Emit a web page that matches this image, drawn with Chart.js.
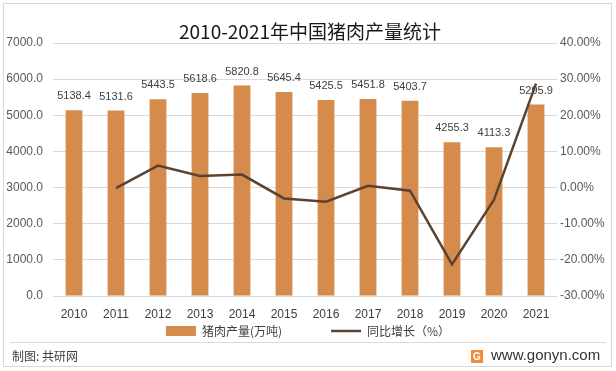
<!DOCTYPE html>
<html>
<head>
<meta charset="utf-8">
<script src="https://cdn.jsdelivr.net/npm/chart.js@4.4.1/dist/chart.umd.min.js"></script>
<style>
  html, body { margin: 0; padding: 0; background: #fff; }
  #wrap { width: 616px; height: 371px; position: relative; }
</style>
</head>
<body>
<div id="wrap"><canvas id="chart" width="616" height="371"></canvas></div>
<script>
// 数据
const years = ['2010', '2011', '2012', '2013', '2014', '2015', '2016', '2017', '2018', '2019', '2020', '2021'];
const output = [5138.4, 5131.6, 5443.5, 5618.6, 5820.8, 5645.4, 5425.5, 5451.8, 5403.7, 4255.3, 4113.3, 5295.9];
const growth = [null, -0.13, 6.08, 3.22, 3.60, -3.01, -3.90, 0.48, -0.88, -21.25, -3.34, 28.75];
const leftTicks = [0, 1000, 2000, 3000, 4000, 5000, 6000, 7000];
const rightTicks = [-30, -20, -10, 0, 10, 20, 30, 40];

const titleText = '2010-2021年中国猪肉产量统计';
const sourceText = '制图: 共研网';
const siteText = 'www.gonyn.com';

const barColor = '#d48b4c';
const lineColor = '#5c4331';
const cjk = '"Noto Sans CJK SC", "Noto Sans", sans-serif';
const latin = '"Liberation Sans", Arial, sans-serif';

// 标题、边框、页脚
const decorPlugin = {
  id: 'decor',
  beforeDraw(chart) {
    const ctx = chart.ctx;
    ctx.save();
    ctx.strokeStyle = '#d9d9d9';
    ctx.lineWidth = 1;
    ctx.strokeRect(3.5, 3.5, 608, 363);
    ctx.beginPath();
    ctx.moveTo(10, 342.5);
    ctx.lineTo(606, 342.5);
    ctx.stroke();
    ctx.restore();
  },
  afterDraw(chart) {
    const ctx = chart.ctx;
    ctx.save();
    ctx.fillStyle = '#1a1a1a';
    ctx.font = '19px ' + cjk;
    ctx.textAlign = 'center';
    ctx.textBaseline = 'middle';
    ctx.fillText(titleText, 310, 32);

    ctx.fillStyle = '#404040';
    ctx.font = '12px ' + cjk;
    ctx.textAlign = 'left';
    ctx.fillText(sourceText, 12, 356);

    // logo
    ctx.fillStyle = '#f08a3c';
    ctx.fillRect(471, 350, 12, 13);
    ctx.fillStyle = '#fff';
    ctx.font = 'bold 10px ' + latin;
    ctx.textAlign = 'center';
    ctx.fillText('G', 477, 357);

    ctx.fillStyle = '#333';
    ctx.font = '15px ' + latin;
    ctx.textAlign = 'left';
    ctx.fillText(siteText, 491, 356);
    ctx.restore();
  }
};

// 柱子上的数值
const barLabelPlugin = {
  id: 'barLabels',
  afterDatasetDraw(chart, args) {
    if (args.index !== 0) return;
    const ctx = chart.ctx;
    ctx.save();
    ctx.fillStyle = '#404040';
    ctx.font = '11px ' + latin;
    ctx.textAlign = 'center';
    ctx.textBaseline = 'middle';
    args.meta.data.forEach((bar, i) => {
      ctx.fillText(output[i].toFixed(1), bar.x, bar.y - 14);
    });
    ctx.restore();
  }
};

new Chart(document.getElementById('chart'), {
  data: {
    labels: years,
    datasets: [
      {
        type: 'bar',
        label: '猪肉产量(万吨)',
        data: output,
        backgroundColor: barColor,
        borderWidth: 0,
        barPercentage: 0.4,
        categoryPercentage: 1,
        yAxisID: 'y',
        pointStyle: 'rect',
        order: 1
      },
      {
        type: 'line',
        label: '同比增长（%）',
        data: growth,
        borderColor: lineColor,
        backgroundColor: lineColor,
        borderWidth: 2.5,
        pointRadius: 0,
        pointStyle: 'line',
        tension: 0,
        yAxisID: 'y1',
        order: 0
      }
    ]
  },
  options: {
    responsive: false,
    animation: false,
    layout: { padding: { top: 43, bottom: 24, left: 0, right: 0 } },
    scales: {
      x: {
        grid: { display: false, drawTicks: false },
        border: { display: false },
        ticks: { color: '#404040', font: { size: 12, family: latin }, padding: 11, maxRotation: 0 },
        afterFit: s => { s.height = 23; }
      },
      y: {
        position: 'left',
        min: 0,
        max: 7000,
        afterBuildTicks: s => { s.ticks = leftTicks.map(v => ({ value: v })); },
        grid: { color: '#d9d9d9', drawTicks: false },
        border: { display: false },
        ticks: {
          color: '#595959',
          font: { size: 12, family: latin },
          padding: 10,
          callback: v => v.toFixed(1)
        },
        afterFit: s => { s.width = 53; }
      },
      y1: {
        position: 'right',
        min: -30,
        max: 40,
        afterBuildTicks: s => { s.ticks = rightTicks.map(v => ({ value: v })); },
        grid: { drawOnChartArea: false, drawTicks: false },
        border: { display: false },
        ticks: {
          color: '#595959',
          font: { size: 12, family: latin },
          padding: 3,
          callback: v => v.toFixed(2) + '%'
        },
        afterFit: s => { s.width = 59; }
      }
    },
    plugins: {
      title: { display: false },
      tooltip: { enabled: false },
      legend: {
        position: 'bottom',
        labels: {
          color: '#404040',
          font: { size: 12, family: cjk },
          usePointStyle: true,
          pointStyleWidth: 30,
          boxHeight: 10,
          padding: 6,
          sort: (a, b) => a.datasetIndex - b.datasetIndex,
          generateLabels: chart => {
            const items = Chart.defaults.plugins.legend.labels.generateLabels(chart);
            items.forEach(it => { if (it.datasetIndex === 0) it.text += '                '; });
            return items;
          }
        }
      }
    }
  },
  plugins: [barLabelPlugin, decorPlugin]
});
</script>
</body>
</html>
